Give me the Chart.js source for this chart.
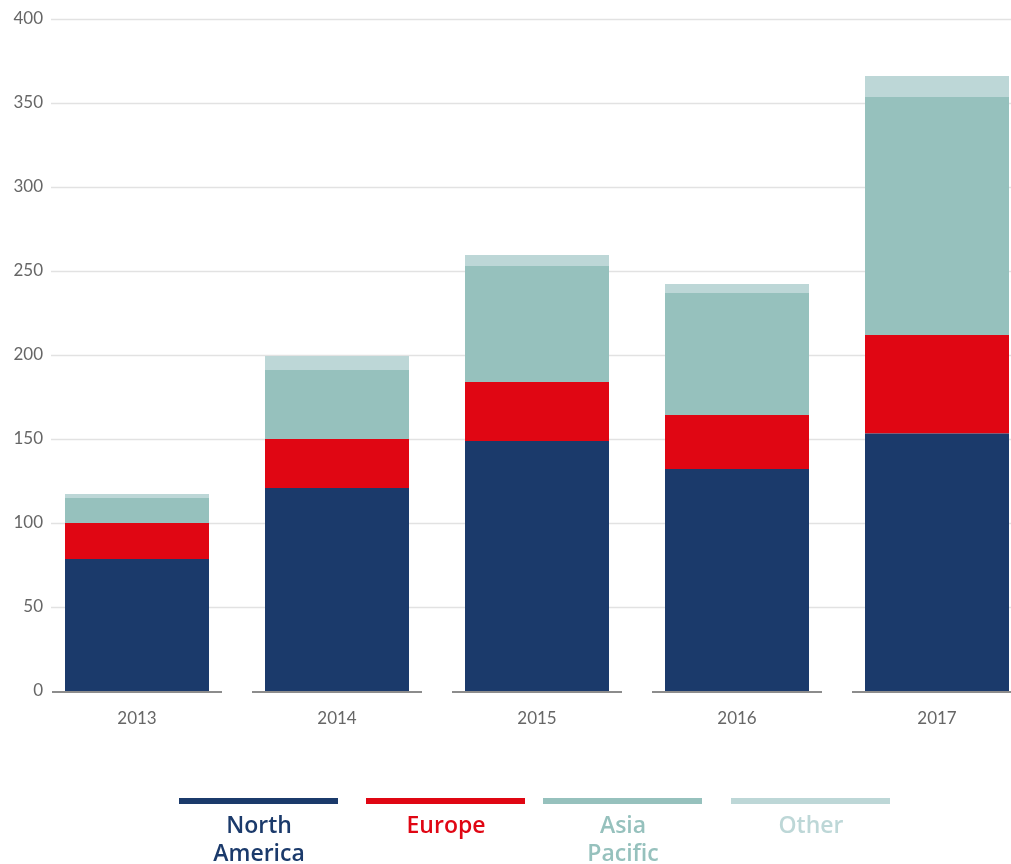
<!DOCTYPE html>
<html>
<head>
<meta charset="utf-8">
<script src="https://cdn.jsdelivr.net/npm/chart.js@4"></script>
<style>
  body { margin: 0; background: #fff; overflow: hidden; }
  #wrap { width: 1011px; height: 864px; }
</style>
</head>
<body>
<div id="wrap"><canvas id="chart" width="1011" height="864"></canvas></div>
<script>
// values
const years = ["2013", "2014", "2015", "2016", "2017"];
const seriesNames = ["North America", "Europe", "Asia Pacific", "Other"];
const northAmerica = [78.6, 120.8, 148.8, 132.1, 153.2];
const europe = [21.4, 29.2, 35.1, 32.2, 58.7];
const asiaPacific = [14.9, 41.1, 69.1, 72.6, 141.7];
const other = [2.4, 8.3, 6.5, 5.4, 12.5];
const yTicks = [0, 50, 100, 150, 200, 250, 300, 350, 400];

const colors = ["#1b3a6b", "#e00613", "#96c1bd", "#bdd7d7"];
const allSeries = [northAmerica, europe, asiaPacific, other];

const toPoints = (arr) => arr.map((v, i) => ({ x: i, y: v }));

// grid lines that start a bit right of the labels
const gridPlugin = {
  id: "customGrid",
  beforeDatasetsDraw(chart) {
    const { ctx, chartArea, scales } = chart;
    ctx.save();
    ctx.strokeStyle = "#e2e2e2";
    ctx.lineWidth = 1.5;
    yTicks.forEach((t) => {
      if (t === 0) return;
      const y = Math.round(scales.y.getPixelForValue(t)) + 0.5;
      ctx.beginPath();
      ctx.moveTo(51, y);
      ctx.lineTo(chartArea.right, y);
      ctx.stroke();
    });
    ctx.restore();
  },
  afterDatasetsDraw(chart) {
    // base line, one piece under each year
    const { ctx, scales } = chart;
    const y0 = scales.y.getPixelForValue(0) + 1;
    ctx.save();
    ctx.strokeStyle = "#8c8c8c";
    ctx.lineWidth = 2;
    years.forEach((_, i) => {
      const cx = scales.x.getPixelForValue(i);
      ctx.beginPath();
      ctx.moveTo(cx - 85, y0);
      ctx.lineTo(cx + 85, y0);
      ctx.stroke();
    });
    ctx.restore();
  },
};

// legend: coloured bar with the name written under it
const legendPlugin = {
  id: "lineLegend",
  afterDraw(chart) {
    const { ctx } = chart;
    const centers = [259, 446, 623, 811];
    ctx.save();
    ctx.textAlign = "center";
    ctx.textBaseline = "alphabetic";
    ctx.font = "600 23px 'Open Sans'";
    chart.data.datasets.forEach((ds, i) => {
      const cx = centers[i];
      ctx.fillStyle = ds.backgroundColor;
      ctx.fillRect(cx - 80, 798, 159, 6);
      ds.label.split(" ").forEach((word, j) => {
        ctx.fillText(word, cx, 833 + j * 28);
      });
    });
    ctx.restore();
  },
};

const ctx = document.getElementById("chart");

new Chart(ctx, {
  type: "bar",
  data: {
    datasets: allSeries.map((arr, i) => ({
      label: seriesNames[i],
      data: toPoints(arr),
      backgroundColor: colors[i],
      borderWidth: 0,
      barPercentage: 0.72,
      categoryPercentage: 1.0,
    })),
  },
  options: {
    responsive: false,
    animation: false,
    layout: { padding: { top: 19, left: 0, right: 0, bottom: 0 } },
    plugins: {
      legend: { display: false },
      tooltip: { enabled: false },
    },
    scales: {
      x: {
        type: "linear",
        stacked: true,
        offset: false,
        min: -0.45,
        max: 4.37,
        grid: { display: false, drawTicks: false },
        border: { display: false },
        afterBuildTicks(scale) {
          scale.ticks = years.map((_, i) => ({ value: i }));
        },
        afterFit(scale) {
          scale.height = 173;
        },
        ticks: {
          callback: (v) => years[v],
          color: "#666",
          font: { family: "Lato", size: 17 },
          padding: 17,
          maxRotation: 0,
        },
      },
      y: {
        stacked: true,
        min: 0,
        max: 400,
        grid: { display: false, drawTicks: false },
        border: { display: false },
        afterFit(scale) {
          scale.width = 47;
        },
        ticks: {
          stepSize: 50,
          color: "#666",
          font: { family: "Lato", size: 17 },
          padding: 4,
        },
      },
    },
  },
  plugins: [gridPlugin, legendPlugin],
});
</script>
</body>
</html>
